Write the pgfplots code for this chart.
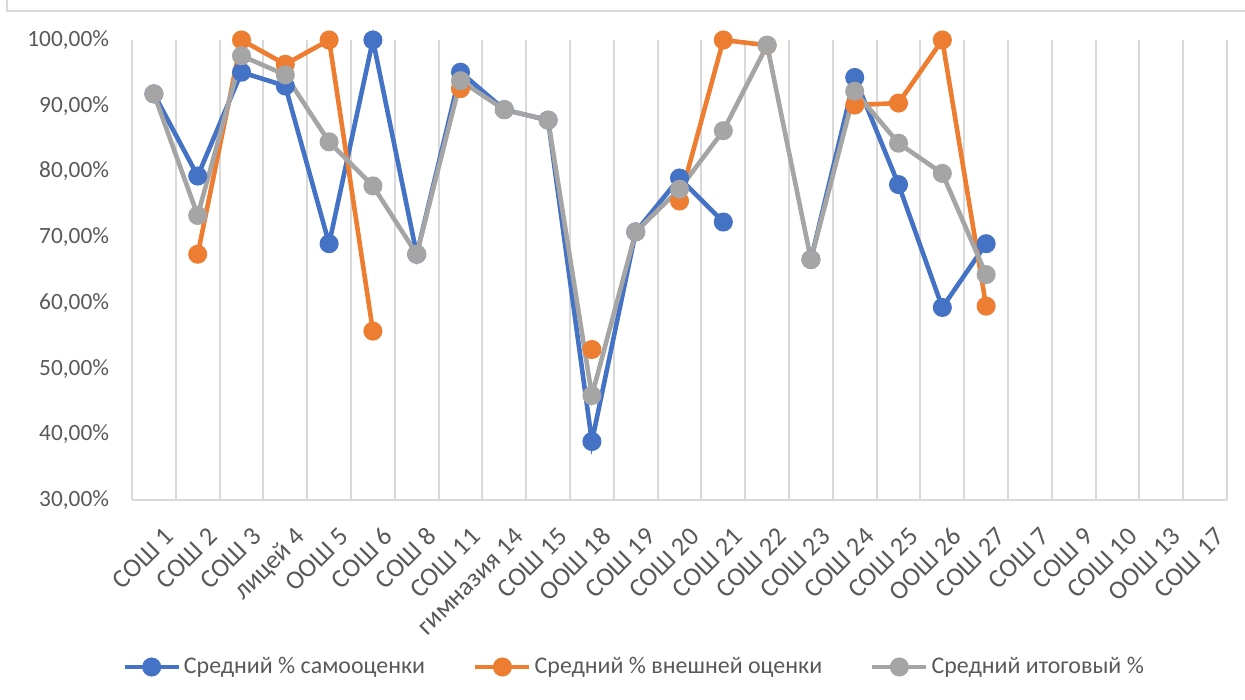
\documentclass[border=0pt]{standalone}
\usepackage{fontspec}
\setmainfont{Carlito}
\usepackage{pgfplots}
\pgfplotsset{compat=1.18}
\definecolor{sblue}{HTML}{4472C4}
\definecolor{sorange}{HTML}{ED7D31}
\definecolor{sgray}{HTML}{A5A5A5}
\definecolor{gridc}{HTML}{D9D9D9}
\definecolor{txt}{HTML}{595959}
\begin{document}
\begin{tikzpicture}[x=1bp,y=1bp]
\useasboundingbox (0,0) rectangle (622.5,349.5);
\draw[gridc,line width=0.75bp] (3.5,349.5) -- (3.5,344) -- (622.5,344);
\begin{axis}[
  at={(66bp,99.5bp)}, anchor=south west,
  scale only axis, width=547.5bp, height=230bp,
  xmin=-0.5, xmax=24.5, ymin=30, ymax=100,
  axis x line*=bottom, axis y line*=left,
  x axis line style={gridc, line width=1bp, -},
  y axis line style={draw=none},
  xtick={0,...,24},
  xticklabels={СОШ 1,СОШ 2,СОШ 3,лицей 4,ООШ 5,СОШ 6,СОШ 8,СОШ 11,гимназия 14,СОШ 15,ООШ 18,СОШ 19,СОШ 20,СОШ 21,СОШ 22,СОШ 23,СОШ 24,СОШ 25,ООШ 26,СОШ 27,СОШ 7,СОШ 9,СОШ 10,ООШ 13,СОШ 17},
  minor xtick={-0.5,0.5,...,24.5},
  xminorgrids, minor grid style={gridc, line width=1bp},
  major tick length=0pt, minor tick length=0pt,
  ytick={30,40,...,100},
  yticklabels={{30,00\%},{40,00\%},{50,00\%},{60,00\%},{70,00\%},{80,00\%},{90,00\%},{100,00\%}},
  yticklabel style={font=\fontsize{11.7}{14}\selectfont, text=txt, xshift=-8bp},
  xticklabel style={font=\fontsize{13.2}{15}\selectfont, text=txt, rotate=45, anchor=base east, inner sep=0pt, xshift=-6bp, yshift=-21bp},
  unbounded coords=jump,
  clip=false,
  legend style={at={(0.459,-0.363)}, anchor=center, draw=none, fill=none,
    legend columns=3, font=\fontsize{12}{14}\selectfont, text=txt,
    /tikz/every even column/.append style={column sep=22.5bp},
    nodes={inner xsep=1.5bp}},
  legend image code/.code={\draw[#1, mark repeat=2, mark phase=2] plot coordinates {(0bp,0bp)(13.5bp,0bp)(27bp,0bp)};},
  every axis plot/.append style={line width=2.3bp, mark=*, mark size=3.6bp},
]
\addplot[sblue, mark options={fill=sblue, draw=sblue}] table[row sep=\\] {
x y\\ 0 91.8\\ 1 79.3\\ 2 95.1\\ 3 93.0\\ 4 69.0\\ 5 100\\ 6 67.4\\ 7 95.1\\ 8 89.4\\ 9 87.8\\
10 38.9\\ 11 70.8\\ 12 79.0\\ 13 72.3\\ 14 nan\\ 15 66.6\\ 16 94.3\\ 17 78.0\\ 18 59.3\\ 19 69.0\\
};
\addlegendentry{Средний \% самооценки}
\addplot[sorange, mark options={fill=sorange, draw=sorange}] table[row sep=\\] {
x y\\ 0 nan\\ 1 67.4\\ 2 100\\ 3 96.3\\ 4 100\\ 5 55.7\\ 6 nan\\ 7 92.6\\ 8 nan\\ 9 nan\\
10 52.9\\ 11 nan\\ 12 75.5\\ 13 100\\ 14 99.2\\ 15 nan\\ 16 90.1\\ 17 90.4\\ 18 100\\ 19 59.5\\
};
\addlegendentry{Средний \% внешней оценки}
\addplot[sgray, mark options={fill=sgray, draw=sgray}] table[row sep=\\] {
x y\\ 0 91.8\\ 1 73.3\\ 2 97.6\\ 3 94.7\\ 4 84.5\\ 5 77.8\\ 6 67.4\\ 7 93.8\\ 8 89.4\\ 9 87.8\\
10 45.9\\ 11 70.8\\ 12 77.3\\ 13 86.2\\ 14 99.2\\ 15 66.6\\ 16 92.2\\ 17 84.3\\ 18 79.7\\ 19 64.3\\
};
\addlegendentry{Средний итоговый \%}
\end{axis}
\end{tikzpicture}
\end{document}
